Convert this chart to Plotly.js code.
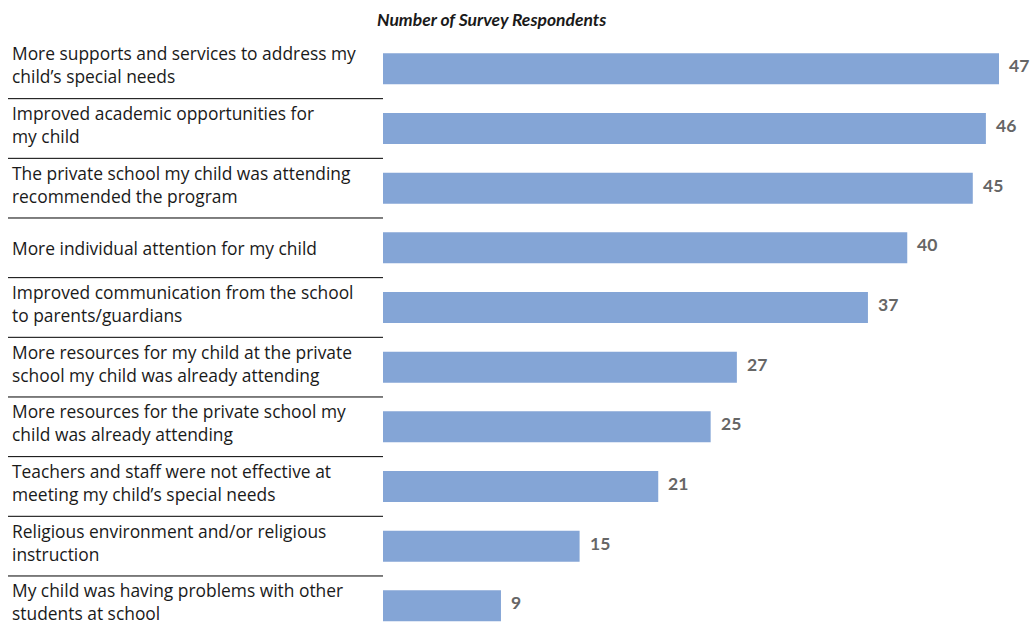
<!DOCTYPE html>
<html>
<head>
<meta charset="utf-8">
<script src="https://cdn.plot.ly/plotly-3.0.1.min.js"></script>
<style>html,body{margin:0;padding:0;background:#fff;}#chart{width:1034px;height:624px;}</style>
</head>
<body>
<div id="chart"></div>
<script>
const categories = [
  "More supports and services to address my<br>child’s special needs",
  "Improved academic opportunities for<br>my child",
  "The private school my child was attending<br>recommended the program",
  "More individual attention for my child",
  "Improved communication from the school<br>to parents/guardians",
  "More resources for my child at the private<br>school my child was already attending",
  "More resources for the private school my<br>child was already attending",
  "Teachers and staff were not effective at<br>meeting my child’s special needs",
  "Religious environment and/or religious<br>instruction",
  "My child was having problems with other<br>students at school"
];
const values = [47, 46, 45, 40, 37, 27, 25, 21, 15, 9];
const chartTitle = "Number of Survey Respondents";

const idx = categories.map((_, i) => i);

const trace = {
  type: 'bar',
  orientation: 'h',
  x: values,
  y: idx,
  width: 0.52,
  marker: {color: '#84A5D6'},
  hoverinfo: 'none'
};

const annotations = [];
categories.forEach((c, i) => {
  annotations.push({
    xref: 'paper', yref: 'y', x: 0, y: i,
    xanchor: 'left', yanchor: 'middle', align: 'left',
    xshift: -373, yshift: c.includes('<br>') ? 4 : 0,
    text: c, showarrow: false,
    font: {family: '"Open Sans", sans-serif', size: 17.4, color: '#1a1a1a'}
  });
  annotations.push({
    xref: 'x', yref: 'y', x: values[i], y: i,
    xanchor: 'left', yanchor: 'middle',
    xshift: 8, yshift: 3,
    text: '<b>' + values[i] + '</b>', showarrow: false,
    font: {family: 'Lato, sans-serif', size: 17.5, color: '#666666'}
  });
});

const shapes = [];
for (let i = 0; i < categories.length - 1; i++) {
  shapes.push({
    type: 'line', xref: 'paper', yref: 'y',
    xsizemode: 'pixel', xanchor: 0,
    x0: -375, x1: 0, y0: i + 0.5, y1: i + 0.5,
    line: {color: '#000000', width: 1}
  });
}

const layout = {
  width: 1034, height: 624,
  margin: {l: 383, r: 0, t: 38.65, b: 0},
  paper_bgcolor: '#ffffff', plot_bgcolor: '#ffffff',
  showlegend: false,
  title: {
    text: '<b><i>' + chartTitle + '</i></b>',
    xref: 'container', yref: 'container',
    x: 377 / 1034, xanchor: 'left',
    y: 1 - 20 / 624, yanchor: 'middle',
    font: {family: 'Lato, sans-serif', size: 17.5, color: '#1a1a1a'}
  },
  xaxis: {range: [0, 49.67], visible: false, fixedrange: true},
  yaxis: {range: [9.305, -0.5], visible: false, fixedrange: true},
  annotations: annotations,
  shapes: shapes
};

Plotly.newPlot('chart', [trace], layout, {displayModeBar: false, staticPlot: true});
</script>
</body>
</html>
